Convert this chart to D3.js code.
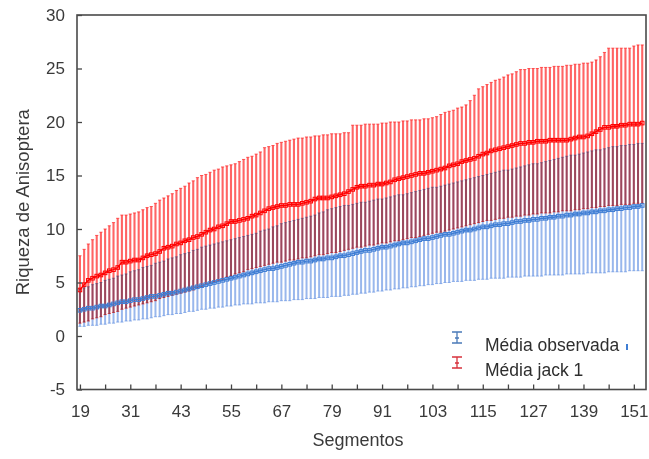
<!DOCTYPE html>
<html>
<head>
<meta charset="utf-8">
<script src="https://cdn.jsdelivr.net/npm/d3@7"></script>
<style>
  body { margin: 0; background: #fff; }
  svg text { font-family: Arial, "Liberation Sans", sans-serif; fill: #3a3a3a; }
</style>
</head>
<body>
<svg id="chart" width="649" height="459"></svg>
<script>
// segmentos 19..153, one error bar per segment
const segmentos = d3.range(19, 154);

// Média jack 1: mean, lower and upper limit
const jackMean = [
  4.3, 4.8, 5.2, 5.4, 5.6, 5.7, 5.9, 6.1, 6.2, 6.4,
  6.9, 6.9, 7.0, 7.1, 7.1, 7.3, 7.5, 7.6, 7.7, 7.9,
  8.2, 8.3, 8.4, 8.6, 8.7, 8.9, 9.0, 9.2, 9.3, 9.5,
  9.7, 9.9, 10.0, 10.2, 10.3, 10.5, 10.7, 10.7, 10.8, 10.9,
  11.0, 11.2, 11.3, 11.5, 11.7, 11.9, 12.0, 12.1, 12.2, 12.2,
  12.3, 12.3, 12.3, 12.4, 12.5, 12.6, 12.8, 12.9, 12.9, 12.9,
  13.0, 13.1, 13.2, 13.3, 13.5, 13.7, 13.9, 14.0, 14.0, 14.1,
  14.1, 14.2, 14.2, 14.3, 14.4, 14.6, 14.7, 14.8, 14.9, 15.0,
  15.1, 15.2, 15.2, 15.3, 15.4, 15.5, 15.6, 15.7, 15.9, 16.0,
  16.1, 16.3, 16.4, 16.5, 16.6, 16.8, 17.0, 17.1, 17.3, 17.4,
  17.5, 17.6, 17.7, 17.8, 17.9, 18.0, 18.0, 18.1, 18.1, 18.2,
  18.2, 18.2, 18.3, 18.3, 18.3, 18.3, 18.3, 18.4, 18.5, 18.6,
  18.6, 18.7, 18.9, 19.1, 19.3, 19.5, 19.5, 19.6, 19.6, 19.7,
  19.7, 19.8, 19.8, 19.8, 19.9
];
const jackHigh = [
  7.5, 8.1, 8.6, 9.0, 9.4, 9.7, 10.0, 10.3, 10.6, 11.0,
  11.3, 11.3, 11.4, 11.5, 11.6, 11.8, 12.0, 12.1, 12.4, 12.7,
  12.9, 13.1, 13.3, 13.6, 13.8, 14.0, 14.3, 14.5, 14.8, 15.0,
  15.1, 15.3, 15.5, 15.6, 15.8, 15.9, 16.0, 16.1, 16.3, 16.5,
  16.7, 16.8, 17.0, 17.2, 17.6, 17.7, 17.8, 18.0, 18.1, 18.2,
  18.3, 18.4, 18.5, 18.5, 18.6, 18.6, 18.7, 18.7, 18.8, 18.8,
  18.9, 18.9, 18.9, 19.0, 19.0, 19.7, 19.7, 19.7, 19.8, 19.8,
  19.8, 19.8, 19.9, 19.9, 20.0, 20.0, 20.0, 20.1, 20.1, 20.2,
  20.2, 20.2, 20.3, 20.3, 20.4, 20.5, 20.7, 20.9, 21.0, 21.1,
  21.3, 21.4, 21.6, 22.0, 22.5, 23.1, 23.3, 23.5, 23.7, 23.9,
  24.0, 24.2, 24.4, 24.5, 24.7, 24.9, 24.9, 25.0, 25.0, 25.0,
  25.1, 25.1, 25.1, 25.2, 25.2, 25.2, 25.3, 25.3, 25.4, 25.4,
  25.5, 25.5, 25.6, 25.8, 26.1, 26.5, 26.9, 26.9, 26.9, 26.9,
  26.9, 26.9, 27.1, 27.2, 27.2
];
const jackLow = [
  1.2, 1.3, 1.4, 1.6, 1.7, 1.8, 2.0, 2.1, 2.2, 2.3,
  2.5, 2.6, 2.7, 2.8, 2.9, 3.0, 3.1, 3.2, 3.3, 3.5,
  3.6, 3.7, 3.8, 3.9, 4.0, 4.1, 4.2, 4.3, 4.5, 4.6,
  4.8, 4.9, 5.1, 5.2, 5.3, 5.5, 5.6, 5.8, 5.9, 6.0,
  6.2, 6.3, 6.4, 6.5, 6.6, 6.7, 6.8, 6.9, 6.9, 7.0,
  7.1, 7.1, 7.2, 7.3, 7.3, 7.4, 7.5, 7.6, 7.6, 7.7,
  7.8, 7.8, 7.9, 8.0, 8.1, 8.2, 8.3, 8.3, 8.4, 8.5,
  8.5, 8.6, 8.7, 8.7, 8.8, 8.9, 8.9, 9.0, 9.1, 9.2,
  9.2, 9.3, 9.4, 9.5, 9.6, 9.7, 9.7, 9.8, 9.9, 10.0,
  10.1, 10.2, 10.3, 10.4, 10.5, 10.6, 10.7, 10.8, 10.8, 10.9,
  11.0, 11.0, 11.1, 11.1, 11.2, 11.2, 11.3, 11.3, 11.4, 11.4,
  11.5, 11.5, 11.5, 11.6, 11.6, 11.7, 11.7, 11.7, 11.8, 11.8,
  11.9, 11.9, 12.0, 12.0, 12.1, 12.1, 12.2, 12.2, 12.2, 12.3,
  12.3, 12.3, 12.4, 12.4, 12.4
];

// Média observada: mean, lower and upper limit
const obsMean = [
  2.4, 2.5, 2.6, 2.6, 2.7, 2.8, 2.8, 2.9, 3.0, 3.1,
  3.2, 3.2, 3.3, 3.4, 3.4, 3.5, 3.6, 3.7, 3.7, 3.8,
  3.9, 4.0, 4.0, 4.1, 4.2, 4.3, 4.4, 4.5, 4.6, 4.7,
  4.8, 4.9, 5.0, 5.1, 5.2, 5.3, 5.4, 5.5, 5.6, 5.7,
  5.8, 5.9, 6.0, 6.1, 6.2, 6.3, 6.3, 6.4, 6.5, 6.6,
  6.7, 6.8, 6.9, 6.9, 7.0, 7.0, 7.1, 7.2, 7.2, 7.3,
  7.3, 7.4, 7.5, 7.5, 7.6, 7.7, 7.8, 7.9, 8.0, 8.0,
  8.1, 8.2, 8.3, 8.3, 8.4, 8.5, 8.6, 8.7, 8.7, 8.8,
  8.9, 9.0, 9.1, 9.1, 9.2, 9.3, 9.4, 9.5, 9.5, 9.6,
  9.7, 9.8, 9.9, 9.9, 10.0, 10.1, 10.2, 10.2, 10.3, 10.4,
  10.4, 10.5, 10.5, 10.6, 10.7, 10.7, 10.8, 10.8, 10.9, 10.9,
  11.0, 11.0, 11.1, 11.1, 11.2, 11.2, 11.3, 11.3, 11.4, 11.4,
  11.5, 11.5, 11.6, 11.6, 11.7, 11.7, 11.8, 11.8, 11.9, 11.9,
  12.0, 12.0, 12.1, 12.1, 12.2
];
const obsHigh = [
  4.4, 4.5, 4.6, 4.8, 4.9, 5.0, 5.2, 5.3, 5.4, 5.6,
  5.7, 5.8, 6.0, 6.1, 6.2, 6.4, 6.5, 6.6, 6.8, 6.9,
  7.0, 7.2, 7.3, 7.4, 7.6, 7.7, 7.8, 8.0, 8.1, 8.3,
  8.4, 8.5, 8.6, 8.7, 8.8, 8.9, 9.0, 9.1, 9.2, 9.3,
  9.4, 9.5, 9.6, 9.8, 9.9, 10.0, 10.2, 10.3, 10.5, 10.6,
  10.7, 10.8, 10.9, 11.0, 11.1, 11.2, 11.3, 11.5, 11.6, 11.8,
  11.9, 12.0, 12.1, 12.2, 12.2, 12.3, 12.4, 12.5, 12.5, 12.6,
  12.7, 12.8, 12.8, 12.9, 13.0, 13.1, 13.2, 13.2, 13.3, 13.4,
  13.5, 13.6, 13.7, 13.8, 13.9, 13.9, 14.0, 14.1, 14.2, 14.3,
  14.4, 14.5, 14.6, 14.7, 14.8, 14.9, 15.0, 15.1, 15.2, 15.3,
  15.4, 15.5, 15.5, 15.6, 15.7, 15.8, 15.9, 16.0, 16.1, 16.1,
  16.2, 16.3, 16.4, 16.5, 16.6, 16.7, 16.8, 16.9, 16.9, 17.0,
  17.1, 17.2, 17.3, 17.4, 17.4, 17.5, 17.6, 17.7, 17.7, 17.8,
  17.8, 17.9, 17.9, 18.0, 18.0
];
const obsLow = [
  0.9, 0.9, 1.0, 1.0, 1.0, 1.1, 1.1, 1.2, 1.2, 1.3,
  1.3, 1.4, 1.4, 1.5, 1.5, 1.6, 1.6, 1.7, 1.8, 1.8,
  1.9, 2.0, 2.0, 2.1, 2.1, 2.2, 2.3, 2.3, 2.4, 2.5,
  2.5, 2.6, 2.6, 2.7, 2.7, 2.8, 2.8, 2.9, 2.9, 3.0,
  3.0, 3.0, 3.1, 3.1, 3.1, 3.2, 3.2, 3.2, 3.3, 3.3,
  3.3, 3.4, 3.4, 3.4, 3.5, 3.5, 3.5, 3.6, 3.6, 3.6,
  3.7, 3.7, 3.7, 3.8, 3.8, 3.9, 3.9, 4.0, 4.0, 4.1,
  4.1, 4.2, 4.2, 4.3, 4.3, 4.4, 4.4, 4.5, 4.5, 4.6,
  4.6, 4.7, 4.7, 4.8, 4.8, 4.9, 4.9, 5.0, 5.0, 5.1,
  5.1, 5.1, 5.2, 5.2, 5.2, 5.3, 5.3, 5.3, 5.4, 5.4,
  5.4, 5.4, 5.5, 5.5, 5.5, 5.5, 5.6, 5.6, 5.6, 5.6,
  5.6, 5.7, 5.7, 5.7, 5.7, 5.7, 5.8, 5.8, 5.8, 5.8,
  5.8, 5.9, 5.9, 5.9, 5.9, 5.9, 6.0, 6.0, 6.0, 6.0,
  6.0, 6.1, 6.1, 6.1, 6.1
];

const xTicks = [19, 31, 43, 55, 67, 79, 91, 103, 115, 127, 139, 151];
const xMinorTicks = [25, 37, 49, 61, 73, 85, 97, 109, 121, 133, 145];
const yTicks = [-5, 0, 5, 10, 15, 20, 25, 30];

const svg = d3.select('#chart');
const plotLeft = 77; const plotRight = 646; const plotTop = 15; const plotBottom = 389.5;

const x = d3.scaleLinear().domain([18.3, 153.9]).range([plotLeft, plotRight]);
const y = d3.scaleLinear().domain([-5, 30]).range([plotBottom, plotTop]);

const jack = segmentos.map((s, i)=>({s: s, m: jackMean[i], lo: jackLow[i], hi: jackHigh[i]}));
const obs = segmentos.map((s, i)=>({s: s, m: obsMean[i], lo: obsLow[i], hi: obsHigh[i]}));

const capW = 1.6;

const drawBars = (g, rows, color, opacity, width)=>{
  const bar = g.selectAll('g').data(rows).enter().append('g')
      .style('stroke', color).style('stroke-opacity', opacity).style('stroke-width', width);
  bar.append('line')
      .attr('x1', (d)=>x(d.s)).attr('x2', (d)=>x(d.s))
      .attr('y1', (d)=>y(d.lo)).attr('y2', (d)=>y(d.hi));
  bar.append('path')
      .style('fill', 'none')
      .style('stroke-width', 1)
      .attr('d', (d)=>`M${x(d.s)-capW},${y(d.hi)}H${x(d.s)+capW}M${x(d.s)-capW},${y(d.lo)}H${x(d.s)+capW}`);
};

// red (jack 1) bars first, blue (observed) multiplied on top
drawBars(svg.append('g'), jack, '#ff1a1a', 0.68, 2.1);
drawBars(svg.append('g').style('mix-blend-mode', 'multiply'), obs, '#5a8ae0', 0.62, 2.0);

const line = d3.line().x((d)=>x(d.s)).y((d)=>y(d.m));

const drawMean = (rows, color)=>{
  svg.append('path').datum(rows)
      .attr('d', line)
      .style('fill', 'none').style('stroke', color).style('stroke-width', 1.4);
  svg.append('g').selectAll('rect').data(rows).enter().append('rect')
      .attr('x', (d)=>x(d.s)-1.8).attr('y', (d)=>y(d.m)-1.8)
      .attr('width', 3.6).attr('height', 3.6)
      .style('fill', 'none').style('stroke', color).style('stroke-width', 1);
};

drawMean(obs, '#3f7ed4');
drawMean(jack, '#ff0000');

// axes, ticks pointing inside
const xAxis = svg.append('g').attr('transform', `translate(0,${plotBottom})`)
    .call(d3.axisBottom(x).tickValues(xTicks).tickSizeInner(-5).tickSizeOuter(0).tickPadding(15));
svg.append('g').attr('transform', `translate(0,${plotBottom})`)
    .call(d3.axisBottom(x).tickValues(xMinorTicks).tickSizeInner(-5).tickSizeOuter(0).tickFormat(''));
const yAxis = svg.append('g').attr('transform', `translate(${plotLeft},0)`)
    .call(d3.axisLeft(y).tickValues(yTicks).tickSizeInner(-5).tickSizeOuter(0).tickPadding(12)
        .tickFormat((d)=>String(d)));

svg.selectAll('.domain').remove();
svg.selectAll('.tick line').style('stroke', '#444').style('stroke-width', 1.3);
xAxis.selectAll('text').style('font-size', '17px').style('fill', '#3a3a3a');
yAxis.selectAll('text').style('font-size', '17px').style('fill', '#3a3a3a');

svg.append('rect')
    .attr('x', plotLeft).attr('y', plotTop)
    .attr('width', plotRight-plotLeft).attr('height', plotBottom-plotTop)
    .style('fill', 'none').style('stroke', '#4a4a4a').style('stroke-width', 1.6);

svg.append('text')
    .attr('x', 358).attr('y', 446)
    .attr('text-anchor', 'middle')
    .style('font-size', '18px')
    .text('Segmentos');

svg.append('text')
    .attr('transform', `translate(29,${(plotTop+plotBottom)/2}) rotate(-90)`)
    .attr('text-anchor', 'middle')
    .style('font-size', '18.5px')
    .text('Riqueza de Anisoptera');

// legend
const legendItems = [
  {label: 'Média observada', color: '#4a7ab8'},
  {label: 'Média jack 1', color: '#d8323c'},
];
const legend = svg.append('g').attr('transform', 'translate(457,337)');
const li = legend.selectAll('g').data(legendItems).enter().append('g')
    .attr('transform', (d, i)=>`translate(0,${i*25})`);
li.append('path')
    .attr('d', 'M-5,-5H5M0,-5V6M-5,6H5M-2,1H2')
    .style('fill', 'none')
    .style('stroke', (d)=>d.color)
    .style('stroke-width', 1.3);
li.append('text')
    .attr('x', 28).attr('y', 14)
    .style('font-size', '17.5px')
    .style('fill', '#2e2e2e')
    .text((d)=>d.label);
legend.append('line')
    .attr('x1', 170).attr('x2', 170).attr('y1', 7).attr('y2', 13)
    .style('stroke', '#3f7ed4').style('stroke-width', 2);
</script>
</body>
</html>
